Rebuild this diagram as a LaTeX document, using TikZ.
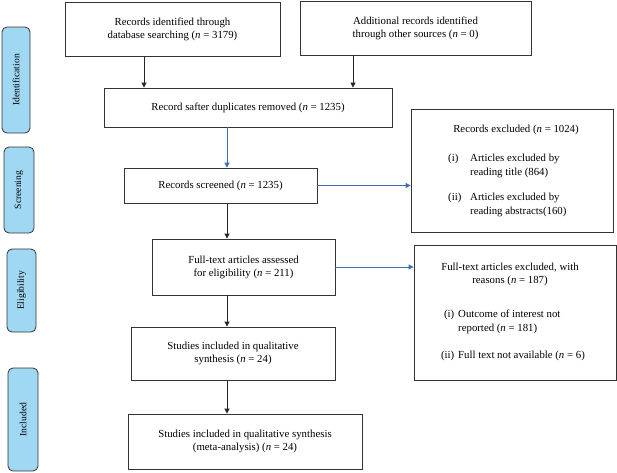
\documentclass[tikz,border=0pt]{standalone}
\usepackage{fontspec}
\setmainfont{Liberation Serif}
\usetikzlibrary{arrows.meta}
\definecolor{lblue}{HTML}{A0D8F4}
\definecolor{ablue}{HTML}{3B6CB7}
\definecolor{edge}{HTML}{333333}
\begin{document}
\begin{tikzpicture}[x=1pt,y=-1pt,
  box/.style={draw=edge, line width=0.8pt, inner sep=0pt, align=center,
    font=\fontsize{10.8}{13}\selectfont},
  txt/.style={inner sep=0pt, font=\fontsize{10.8}{13.5}\selectfont},
  phase/.style={draw=edge, fill=lblue, line width=0.8pt, rounded corners=5pt,
    rotate=90, inner sep=0pt, font=\fontsize{9.6}{12}\selectfont},
  arr/.style={-{Triangle[length=5pt,width=5pt]}, line width=0.8pt, draw=black!85},
  barr/.style={-{Triangle[length=5pt,width=5pt]}, line width=0.8pt, draw=ablue}]
\useasboundingbox (0,0) rectangle (617,472);

% phase labels (min width = vertical extent, min height = horizontal extent)
\node[phase, minimum width=106pt, minimum height=28pt] (pid) at (16,80) {Identification};
\node[phase, minimum width=86pt, minimum height=30pt] (psc) at (19,190) {Screening};
\node[phase, minimum width=83pt, minimum height=29pt] (pel) at (21.5,290.5) {Eligibility};
\node[phase, minimum width=103pt, minimum height=30pt] (pin) at (23,419.5) {Included};

% main boxes
\node[box, minimum width=215pt, minimum height=54pt] (A) at (172.5,29.5)
  {Records identified through\\database searching (\textit{n} = 3179)};
\node[box, minimum width=231pt, minimum height=54pt] (B) at (415.5,28)
  {Additional records identified\\through other sources (\textit{n} = 0)};
\node[box, minimum width=288pt, minimum height=39pt] (C) at (248,107.5)
  {Record safter duplicates removed (\textit{n} = 1235)};
\node[box, minimum width=193pt, minimum height=35pt] (D) at (220.5,185.5)
  {Records screened (\textit{n} = 1235)};
\node[box, minimum width=183pt, minimum height=56pt] (E) at (243.5,267)
  {Full-text articles assessed\\for eligibility (\textit{n} = 211)};
\node[box, minimum width=204pt, minimum height=53pt] (F) at (233,353.5)
  {Studies included in qualitative\\synthesis (\textit{n} = 24)};
\node[box, minimum width=234pt, minimum height=55pt] (G) at (245,441.5)
  {Studies included in qualitative synthesis\\(meta-analysis) (\textit{n} = 24)};

% exclusion boxes
\node[box, minimum width=202pt, minimum height=123pt] (X1) at (512,170.5) {};
\node[box, minimum width=202pt, minimum height=135pt] (X2) at (515,312.5) {};

\node[txt] (x1t) at (516,129.5) {Records excluded (\textit{n} = 1024)};
\node[txt, anchor=west] (x1a) at (448,166)
  {\begin{tabular}{@{}p{22pt}@{}l@{}}(i)&Articles excluded by\\&reading title (864)\end{tabular}};
\node[txt, anchor=west] (x1b) at (448,205)
  {\begin{tabular}{@{}p{22pt}@{}l@{}}(ii)&Articles excluded by\\&reading abstracts(160)\end{tabular}};

\node[txt, align=center] (x2t) at (510,274.5)
  {Full-text articles excluded, with\\reasons (\textit{n} = 187)};
\node[txt, anchor=west] (x2a) at (439,322)
  {\begin{tabular}{@{}r@{\hspace{4pt}}l@{}}\makebox[15pt][r]{(i)}&Outcome of interest not\\&reported (\textit{n} = 181)\end{tabular}};
\node[txt, anchor=west] (x2b) at (439,356)
  {\begin{tabular}{@{}r@{\hspace{4pt}}l@{}}\makebox[15pt][r]{(ii)}&Full text not available (\textit{n} = 6)\end{tabular}};

% connector columns
\coordinate (ax) at (144,0);
\coordinate (bx) at (353,0);
\coordinate (mx) at (227,0);

\draw[arr] (A.south -| ax) -- (C.north -| ax);
\draw[arr] (B.south -| bx) -- (C.north -| bx);
\draw[barr] (C.south -| mx) -- (D.north -| mx);
\draw[arr] (D.south -| mx) -- (E.north -| mx);
\draw[arr] (E.south -| mx) -- (F.north -| mx);
\draw[arr] (F.south -| mx) -- (G.north -| mx);
\draw[barr] (D.east) -- (X1.west |- D.east);
\draw[barr] (E.east) -- (X2.west |- E.east);
\end{tikzpicture}
\end{document}
